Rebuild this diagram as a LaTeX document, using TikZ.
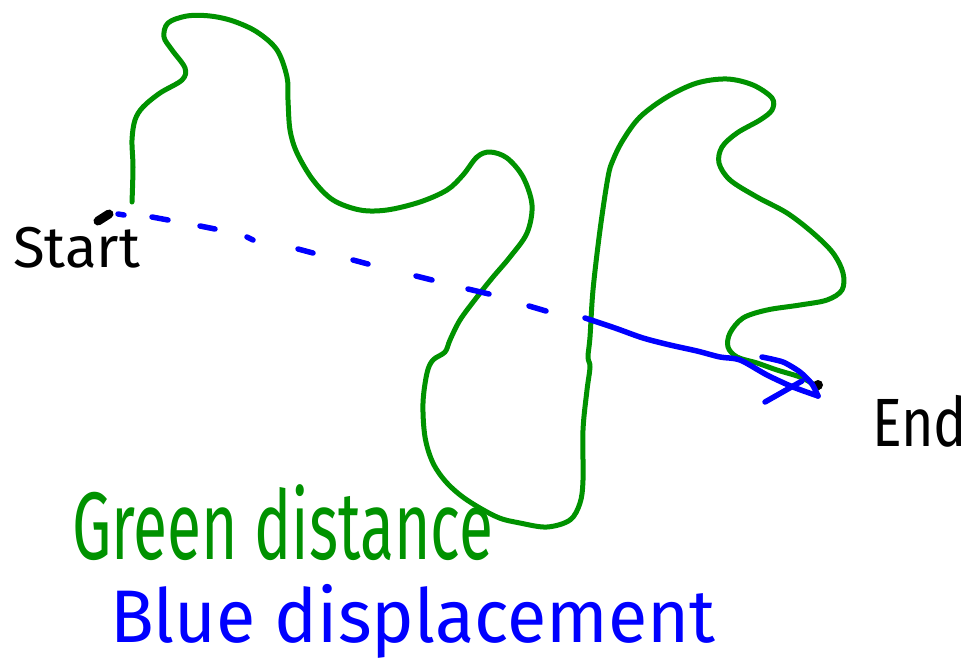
\documentclass[tikz,border=0pt]{standalone}
\usepackage{fontspec}
\setmainfont{Fira Sans}
\definecolor{pgreen}{RGB}{0,146,0}
\definecolor{pblue}{RGB}{0,0,255}
\tikzset{
  greenpath/.style={draw=pgreen, line width=5pt, line cap=round, line join=round},
  bluepath/.style={draw=pblue, line width=5.5pt, line cap=round, line join=round},
  inkdash/.style={draw=pblue, line width=5.5pt, line cap=round},
  label/.style={inner sep=0pt, outer sep=0pt}
}
\begin{document}
\begin{tikzpicture}[x=1pt, y=-1pt]
\useasboundingbox (0,0) rectangle (973,661);
\fill[white] (0,0) rectangle (973,661);

% green distance path
\draw[greenpath] plot[smooth, tension=0.55] coordinates {
 (132,202) (133,167) (132,140) (135,120) (143,107) (160,93) (182,80) (185,68)
 (172,50) (164,37) (168,23) (187,16) (210,16) (233,21) (257,32) (277,50)
 (287,77) (288,100) (290,130) (297,153) (313,180) (333,200) (360,210) (387,210)
 (420,202) (447,190) (463,175) (477,157) (490,152) (507,158) (523,177) (532,205)
 (527,233) (510,257) (493,277) (477,297) (460,320) (450,340) (445,352) (433,360)
 (427,373) (423,403) (425,437) (433,463) (447,483) (467,500) (497,517) (520,523)
 (547,527) (570,520) (580,503) (583,480) (583,430) (587,390) (590,367) (588,357)
 (590,337) (593,290) (600,230) (608,177) (613,160) (623,140) (640,117) (667,97)
 (697,83) (727,79) (753,85) (772,98) (772,110) (760,120) (737,133) (722,147)
 (719,163) (730,180) (757,197) (787,213) (813,233) (833,253) (843,273) (842,290)
 (827,300) (800,305) (767,310) (743,318) (730,333) (728,347) (737,357) (757,363)
 (777,370) (800,377) (813,384) (818,388)};

% start and end points
\coordinate (startpt) at (118,214);
\coordinate (endpt) at (818,396);
\draw[line width=9pt, line cap=round] (98,221) -- (109,214);
\fill (818,385) circle (5);

% blue displacement: dashed part
\draw[inkdash] (startpt) -- (124,215);
\draw[inkdash] (152,217) -- (168,220);
\draw[inkdash] (200,226) -- (215,229);
\draw[inkdash] (247,237) -- (253,240);
\draw[inkdash] (298,249) -- (313,253);
\draw[inkdash] (353,260) -- (368,264);
\draw[inkdash] (416,276) -- (432,280);
\draw[inkdash] (468,289) -- (489,294);
\draw[inkdash] (529,306) -- (546,311);
% solid part
\draw[bluepath] plot[smooth, tension=0.5] coordinates {
 (585,318) (615,328) (643,338) (670,345) (697,351) (720,357) (740,360)
 (767,375) (793,387) (818,396)};
% arrow head
\draw[bluepath] plot[smooth, tension=0.4] coordinates {
 (762,357) (783,362) (800,372) (812,384) (818,396)};
\draw[bluepath] (765,402) -- (802,381);

% labels
\node[label, anchor=north west] (startlbl) at (13,227) {\resizebox*{127pt}{41pt}{Start}};
\node[label, anchor=north west] (endlbl) at (872,395) {\resizebox*{95pt}{52pt}{End}};
\node[label, anchor=north west, text=pgreen] (greenlbl) at (72,485) {\resizebox*{421pt}{76pt}{Green distance}};
\node[label, anchor=north west, text=pblue] (bluelbl) at (110,584) {\resizebox*{605pt}{74pt}{Blue displacement}};
\end{tikzpicture}
\end{document}
